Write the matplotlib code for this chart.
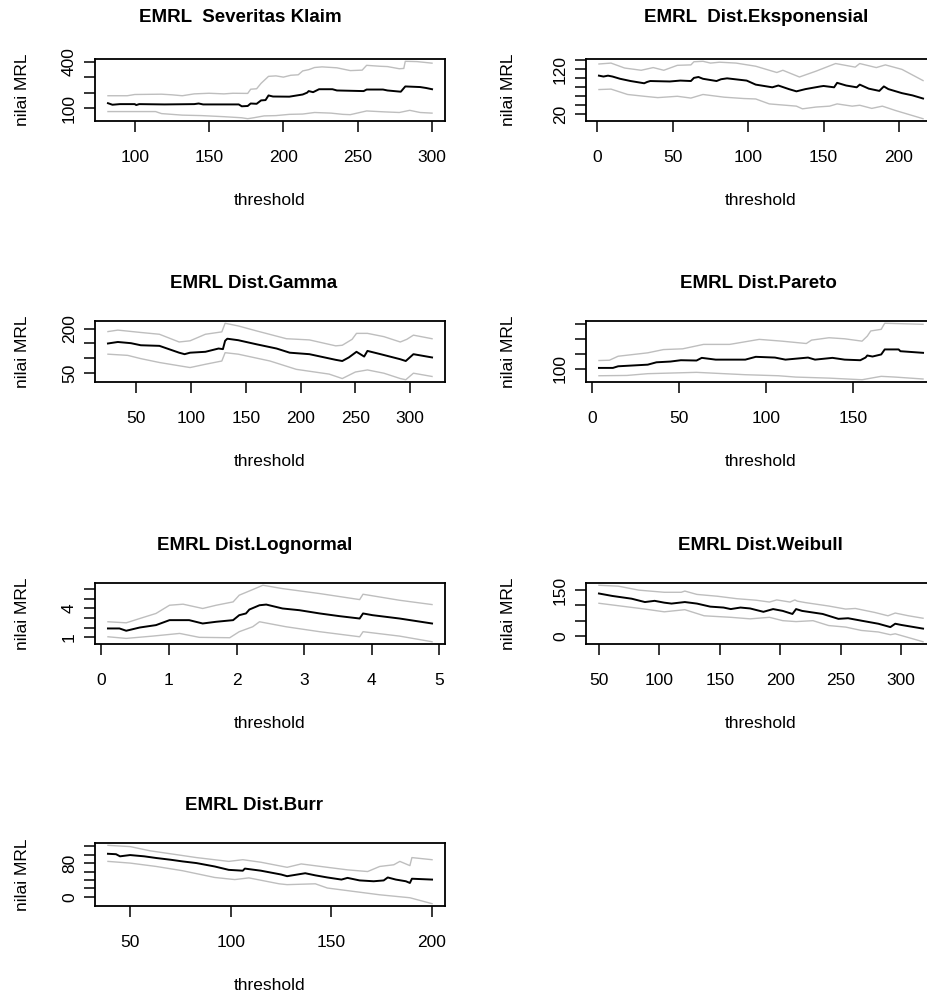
import matplotlib
matplotlib.use("Agg")
import matplotlib.pyplot as plt

# ---- data (threshold, value) ----
# EMRL Severitas Klaim
klaim_mrl_x = [82, 85, 90, 100, 101, 103, 120, 140, 143, 146, 170, 172, 176, 178, 182, 185, 188, 190, 193, 204, 213, 216, 217, 220, 224, 233, 236, 245, 254, 256, 267, 270, 279, 282, 292, 296, 300]
klaim_mrl_y = [132, 122, 126, 126, 120, 126, 124, 126, 130, 124, 124, 112, 114, 130, 128, 150, 152, 182, 175, 174, 188, 200, 210, 203, 222, 222, 214, 212, 210, 220, 220, 214, 206, 240, 236, 230, 222]
klaim_up_x = [82, 95, 100, 118, 125, 132, 140, 150, 160, 166, 176, 178, 182, 185, 190, 195, 200, 205, 210, 213, 217, 221, 226, 236, 245, 253, 256, 265, 270, 278, 281, 282, 290, 300]
klaim_up_y = [180, 180, 188, 190, 186, 180, 192, 196, 192, 196, 195, 222, 225, 260, 305, 308, 300, 312, 315, 340, 348, 362, 366, 360, 342, 345, 376, 370, 368, 354, 356, 402, 400, 390]
klaim_lo_x = [82, 114, 118, 132, 145, 160, 172, 176, 180, 187, 195, 204, 213, 221, 232, 240, 245, 256, 268, 278, 285, 292, 300]
klaim_lo_y = [78, 78, 65, 55, 52, 45, 38, 32, 38, 50, 52, 60, 62, 72, 68, 60, 58, 82, 76, 72, 86, 72, 68]

# EMRL Dist.Eksponensial
eksp_mrl_x = [1, 4, 7, 10, 15, 22, 31, 33, 35, 48, 55, 62, 64, 67, 70, 79, 82, 86, 99, 105, 116, 120, 127, 132, 138, 148, 150, 157, 159, 165, 172, 174, 180, 187, 190, 193, 202, 209, 216]
eksp_mrl_y = [106, 104, 106, 104, 99, 94, 89, 92, 94, 93, 95, 94, 101, 103, 99, 94, 98, 100, 95, 86, 80, 84, 76, 71, 76, 82, 83, 80, 90, 84, 80, 86, 77, 72, 82, 76, 67, 62, 55]
eksp_up_x = [1, 9, 18, 29, 37, 44, 53, 62, 64, 70, 75, 81, 92, 105, 119, 123, 134, 145, 158, 171, 174, 185, 191, 202, 216]
eksp_up_y = [132, 134, 123, 118, 124, 118, 129, 130, 137, 138, 134, 136, 134, 127, 113, 118, 103, 116, 133, 125, 133, 124, 130, 120, 95]
eksp_lo_x = [1, 9, 20, 31, 40, 53, 62, 70, 84, 97, 105, 114, 132, 136, 145, 154, 159, 169, 174, 182, 189, 198, 216]
eksp_lo_y = [75, 76, 64, 60, 57, 60, 56, 64, 58, 55, 54, 43, 38, 32, 36, 38, 43, 38, 40, 33, 38, 28, 10]

# EMRL Dist.Gamma
gamma_mrl_x = [24, 33, 45, 54, 71, 89, 94, 99, 113, 125, 129, 131, 133, 143, 160, 178, 190, 208, 232, 238, 244, 251, 258, 261, 273, 291, 296, 303, 320]
gamma_mrl_y = [150, 155, 151, 144, 142, 119, 114, 119, 122, 133, 131, 159, 166, 161, 147, 133, 119, 114, 95, 91, 103, 122, 106, 125, 114, 97, 91, 114, 103]
gamma_up_x = [24, 33, 54, 71, 89, 99, 113, 128, 131, 143, 160, 187, 208, 232, 238, 247, 251, 261, 276, 291, 297, 303, 320]
gamma_up_y = [190, 195, 187, 181, 155, 159, 181, 189, 218, 209, 192, 166, 162, 142, 144, 164, 184, 184, 173, 155, 164, 178, 166]
gamma_lo_x = [24, 42, 54, 71, 89, 99, 113, 128, 131, 143, 172, 196, 226, 238, 250, 261, 276, 291, 296, 303, 320]
gamma_lo_y = [114, 110, 99, 86, 75, 69, 80, 91, 119, 114, 91, 63, 47, 32, 54, 61, 50, 32, 28, 50, 39]

# EMRL Dist.Pareto
pareto_mrl_x = [4, 12, 15, 32, 37, 45, 51, 60, 63, 71, 88, 94, 105, 111, 124, 128, 138, 145, 154, 157, 158, 161, 166, 168, 176, 177, 190]
pareto_mrl_y = [105, 105, 116, 127, 143, 148, 157, 155, 173, 161, 161, 180, 175, 161, 175, 161, 173, 161, 157, 175, 189, 182, 196, 230, 230, 218, 207]
pareto_up_x = [4, 10, 15, 32, 41, 52, 64, 79, 96, 109, 123, 126, 136, 145, 155, 158, 160, 166, 168, 190]
pareto_up_y = [155, 157, 184, 207, 229, 234, 264, 264, 298, 286, 270, 293, 309, 302, 286, 320, 355, 366, 407, 400]
pareto_lo_x = [4, 20, 32, 60, 88, 107, 117, 136, 155, 166, 174, 190]
pareto_lo_y = [52, 54, 66, 75, 59, 52, 43, 36, 25, 48, 43, 30]

# EMRL Dist.Lognormal
lnorm_mrl_x = [0.1, 0.27, 0.37, 0.57, 0.81, 1.01, 1.3, 1.5, 1.7, 1.95, 2.04, 2.14, 2.19, 2.34, 2.44, 2.68, 2.93, 3.23, 3.52, 3.82, 3.87, 4.01, 4.41, 4.89]
lnorm_mrl_y = [1.9, 1.9, 1.66, 2.0, 2.25, 2.77, 2.77, 2.42, 2.6, 2.77, 3.29, 3.47, 3.88, 4.33, 4.4, 3.99, 3.81, 3.47, 3.19, 2.94, 3.47, 3.29, 2.94, 2.42]
lnorm_up_x = [0.1, 0.37, 0.57, 0.81, 1.01, 1.21, 1.5, 1.7, 1.95, 2.04, 2.24, 2.39, 2.68, 3.23, 3.82, 3.87, 4.41, 4.89]
lnorm_up_y = [2.6, 2.49, 2.94, 3.47, 4.33, 4.44, 3.99, 4.33, 4.68, 5.38, 5.97, 6.42, 6.07, 5.55, 4.92, 5.48, 4.85, 4.4]
lnorm_lo_x = [0.1, 0.37, 0.76, 1.16, 1.45, 1.9, 2.04, 2.24, 2.34, 2.73, 3.23, 3.82, 3.87, 4.41, 4.89]
lnorm_lo_y = [1.03, 0.86, 1.1, 1.38, 0.97, 0.93, 1.56, 2.08, 2.6, 2.08, 1.56, 1.03, 1.56, 1.1, 0.51]

# EMRL Dist.Weibull
weib_mrl_x = [50, 61, 77, 88, 96, 104, 110, 121, 131, 142, 153, 159, 167, 175, 186, 194, 202, 210, 213, 218, 235, 248, 256, 267, 281, 291, 295, 300, 318]
weib_mrl_y = [139, 131, 122, 111, 115, 109, 106, 111, 106, 96, 93, 88, 93, 90, 79, 88, 82, 72, 88, 82, 72, 56, 58, 50, 40, 29, 40, 36, 24]
weib_up_x = [50, 66, 83, 104, 118, 121, 131, 148, 164, 180, 191, 197, 208, 212, 214, 221, 240, 254, 262, 278, 289, 295, 306, 318]
weib_up_y = [166, 163, 150, 143, 143, 147, 136, 130, 122, 117, 111, 118, 111, 118, 114, 109, 98, 88, 90, 77, 66, 75, 66, 58]
weib_lo_x = [50, 66, 88, 104, 121, 137, 159, 175, 191, 202, 213, 227, 240, 254, 267, 281, 291, 295, 318]
weib_lo_y = [107, 99, 88, 79, 86, 66, 61, 56, 61, 50, 47, 50, 34, 29, 18, 13, 4, 7, -19]

# EMRL Dist.Burr
burr_mrl_x = [39, 43, 45, 50, 57, 63, 70, 76, 83, 92, 99, 106, 107, 115, 125, 128, 137, 142, 148, 155, 158, 164, 171, 176, 178, 182, 187, 189, 190, 200]
burr_mrl_y = [102, 101, 96, 99, 96, 92, 88, 84, 80, 72, 64, 62, 67, 62, 53, 49, 56, 51, 46, 41, 45, 39, 37, 39, 46, 41, 37, 33, 43, 41]
burr_up_x = [39, 50, 60, 73, 83, 99, 106, 115, 128, 135, 148, 158, 168, 174, 181, 184, 189, 190, 200]
burr_up_y = [122, 119, 109, 100, 93, 84, 88, 82, 70, 78, 70, 64, 60, 72, 76, 84, 74, 93, 88]
burr_lo_x = [39, 50, 63, 76, 92, 102, 109, 124, 128, 142, 148, 161, 174, 189, 200]
burr_lo_y = [84, 80, 72, 62, 46, 41, 45, 31, 29, 31, 21, 13, 5, -2, -16]

W, H = 928, 996


def px_box(x0, y0, x1, y1):
    return [x0 / W, 1 - y1 / H, (x1 - x0) / W, (y1 - y0) / H]


def panel(fig, col, row, title, title_x, series, xticks, yticks, ylabels):
    lefts = [95, 586]
    tops = [59, 321, 583, 843]
    bottoms = [121, 382, 644, 906]
    title_y = [17, 283, 545, 805]
    x0 = lefts[col]
    x1 = x0 + 350
    ax = fig.add_axes(px_box(x0, tops[row], x1, bottoms[row]))

    (mx, my), (ux, uy), (lx, ly) = series
    ax.plot(ux, uy, color="#bebebe", lw=1.0)
    ax.plot(lx, ly, color="#bebebe", lw=1.0)
    ax.plot(mx, my, color="black", lw=1.4)
    ax.margins(0.04)

    ax.set_xticks(xticks)
    ax.set_xticklabels([str(t) for t in xticks])
    ax.set_yticks(yticks)
    ax.set_yticklabels(ylabels, rotation=90, va="center")
    ax.tick_params(axis="both", direction="out", length=8, width=1.1,
                   labelsize=12.5, colors="black")
    ax.tick_params(axis="x", pad=13)
    ax.tick_params(axis="y", pad=5)
    for s in ax.spines.values():
        s.set_linewidth(1.3)

    cx = (x0 + x1) / 2
    fig.text(title_x / W, 1 - title_y[row] / H, title, ha="center", va="center",
             fontsize=13.5, fontweight="bold")
    fig.text(cx / W, 1 - (bottoms[row] + 79) / H, "threshold", ha="center",
             va="center", fontsize=12.5)
    ylab_x = [23, 509][col]
    fig.text(ylab_x / W, 1 - ((tops[row] + bottoms[row]) / 2) / H, "nilai MRL",
             ha="center", va="center", rotation=90, fontsize=12.5)
    return ax


def main():
    plt.rcParams["font.family"] = ["Liberation Sans", "DejaVu Sans"]
    fig = plt.figure(figsize=(W / 100, H / 100), dpi=100)

    panel(fig, 0, 0, "EMRL  Severitas Klaim", 240,
          [(klaim_mrl_x, klaim_mrl_y), (klaim_up_x, klaim_up_y), (klaim_lo_x, klaim_lo_y)],
          [100, 150, 200, 250, 300], [100, 200, 300, 400], ["100", "", "", "400"])
    panel(fig, 1, 0, "EMRL  Dist.Eksponensial", 756,
          [(eksp_mrl_x, eksp_mrl_y), (eksp_up_x, eksp_up_y), (eksp_lo_x, eksp_lo_y)],
          [0, 50, 100, 150, 200], [20, 40, 60, 80, 100, 120, 140],
          ["20", "", "", "", "", "120", ""])
    panel(fig, 0, 1, "EMRL Dist.Gamma", 254,
          [(gamma_mrl_x, gamma_mrl_y), (gamma_up_x, gamma_up_y), (gamma_lo_x, gamma_lo_y)],
          [50, 100, 150, 200, 250, 300], [50, 100, 150, 200], ["50", "", "", "200"])
    panel(fig, 1, 1, "EMRL Dist.Pareto", 758,
          [(pareto_mrl_x, pareto_mrl_y), (pareto_up_x, pareto_up_y), (pareto_lo_x, pareto_lo_y)],
          [0, 50, 100, 150], [100, 200, 300, 400], ["100", "", "", ""])
    panel(fig, 0, 2, "EMRL Dist.Lognormal", 255,
          [(lnorm_mrl_x, lnorm_mrl_y), (lnorm_up_x, lnorm_up_y), (lnorm_lo_x, lnorm_lo_y)],
          [0, 1, 2, 3, 4, 5], [1, 2, 3, 4, 5, 6], ["1", "", "", "4", "", ""])
    panel(fig, 1, 2, "EMRL Dist.Weibull", 760,
          [(weib_mrl_x, weib_mrl_y), (weib_up_x, weib_up_y), (weib_lo_x, weib_lo_y)],
          [50, 100, 150, 200, 250, 300], [0, 50, 100, 150], ["0", "", "", "150"])
    panel(fig, 0, 3, "EMRL Dist.Burr", 254,
          [(burr_mrl_x, burr_mrl_y), (burr_up_x, burr_up_y), (burr_lo_x, burr_lo_y)],
          [50, 100, 150, 200], [0, 20, 40, 60, 80, 100, 120],
          ["0", "", "", "", "80", "", ""])

    fig.savefig("out.png", dpi=100)


if __name__ == "__main__":
    main()
